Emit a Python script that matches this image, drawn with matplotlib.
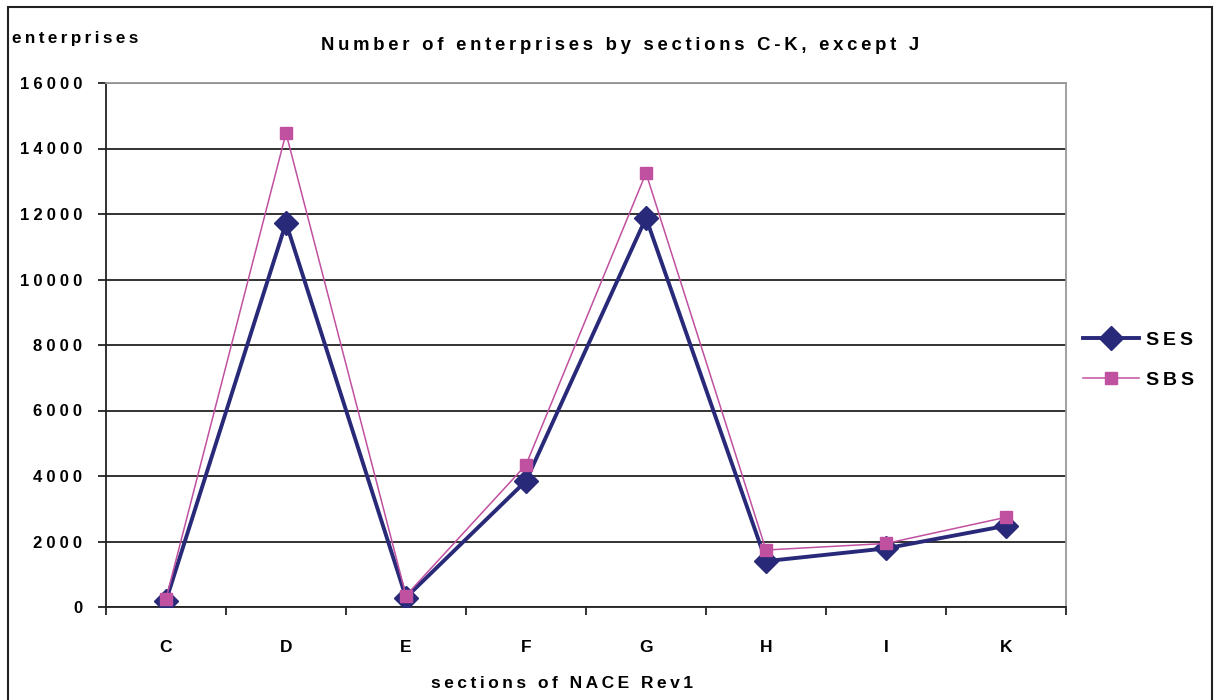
import matplotlib
matplotlib.use("Agg")
import matplotlib.pyplot as plt
from matplotlib.patches import Rectangle
from matplotlib.ticker import FixedLocator, NullFormatter

categories = ["C", "D", "E", "F", "G", "H", "I", "K"]
ses = [190, 11730, 290, 3850, 11880, 1400, 1790, 2480]
sbs = [250, 14470, 350, 4340, 13250, 1740, 1940, 2740]
yticks = [0, 2000, 4000, 6000, 8000, 10000, 12000, 14000, 16000]

plt.rcParams['font.family'] = ['Liberation Sans', 'DejaVu Sans']

def spaced(s, sep="\u2009"):
    return sep.join(s)

fig = plt.figure(figsize=(12.15, 7), dpi=100)
ax = fig.add_axes([106/1215, 1-607/700, (1066-106)/1215, (607-83)/700])

x = list(range(len(categories)))
ax.plot(x, ses, color="#29297A", lw=2.8, marker="D", markersize=12.5, label="SES", zorder=3)
ax.plot(x, sbs, color="#C050A0", lw=1.1, marker="s", markersize=8, label="SBS", zorder=4)

ax.set_xlim(-0.5, len(categories) - 0.5)
ax.set_ylim(0, 16000)
ax.set_yticks(yticks)
ax.set_yticklabels([spaced(str(v), "\u2005") for v in yticks], fontweight="bold", fontsize=12)
ax.set_xticks(x)
ax.set_xticklabels(categories, fontweight="bold", fontsize=12.5)
ax.tick_params(axis="x", which="major", length=0, pad=24)
ax.xaxis.set_minor_locator(FixedLocator([i - 0.5 for i in range(len(categories) + 1)]))
ax.xaxis.set_minor_formatter(NullFormatter())
ax.tick_params(axis="x", which="minor", length=6, width=1.3, direction="out", color="#222222")
ax.tick_params(axis="y", length=6, width=1.3, direction="out", pad=11, color="#222222")
ax.yaxis.grid(True, color="#222222", lw=1.3)
ax.set_axisbelow(True)
for s in ["left", "bottom"]:
    ax.spines[s].set_color("#222222")
    ax.spines[s].set_linewidth(1.3)
for s in ["top", "right"]:
    ax.spines[s].set_color("#999999")
    ax.spines[s].set_linewidth(1.3)

fig.text(12/1215, 1-38/700, spaced("enterprises"), fontsize=12.3, fontweight="bold", va="center", ha="left")
fig.text(620/1215, 1-45/700, spaced("Number of enterprises by sections C-K, except J"),
         fontsize=13.3, fontweight="bold", va="center", ha="center")
fig.text(562/1215, 1-683/700, spaced("sections of NACE Rev1"), fontsize=12.5, fontweight="bold",
         va="center", ha="center")

leg = fig.legend(loc="center left", bbox_to_anchor=(1075/1215, 1-360/700), frameon=False,
                 prop={"weight": "bold", "size": 14}, handlelength=2.9, labelspacing=1.15,
                 handletextpad=0.36, borderaxespad=0)
for t in leg.get_texts():
    t.set_text(spaced(t.get_text()))

fig.patches.append(Rectangle((8/1215, -0.01), (1212-8)/1215, 1 - 7/700 + 0.01,
                             transform=fig.transFigure, fill=False, edgecolor="#222222", lw=1.5))

fig.savefig("out.png", dpi=100)
